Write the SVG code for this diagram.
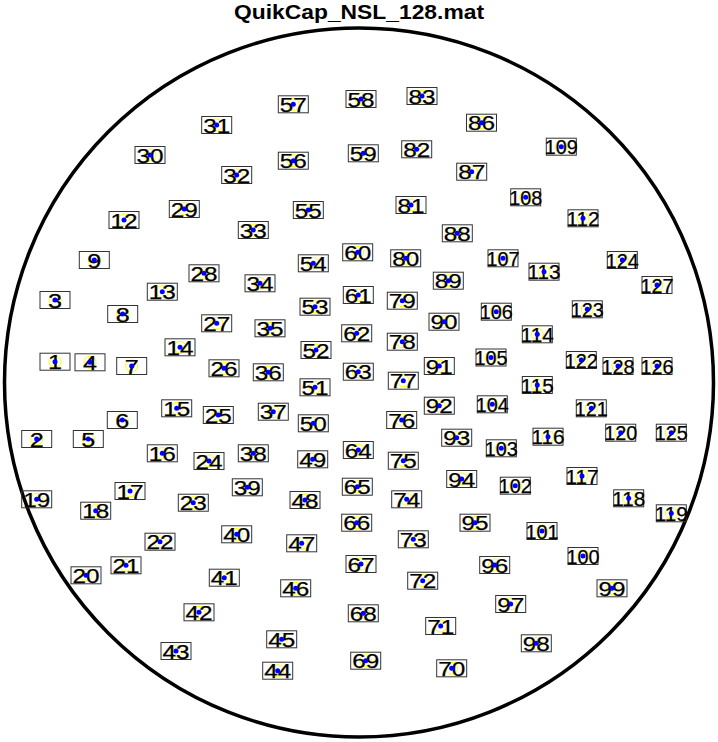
<svg xmlns="http://www.w3.org/2000/svg" xmlns:xlink="http://www.w3.org/1999/xlink" width="718" height="742" viewBox="0 0 718 742">
<style>
.head{fill:none;stroke:#000;stroke-width:3.5}
.title{font-family:"Liberation Sans",Arial,Helvetica,sans-serif;font-weight:bold;font-size:20px;text-anchor:middle;fill:#000}
.box{fill:none;stroke:#333;stroke-width:1}
.ring{fill:none;stroke:#ff0;stroke-width:1}
.dot{fill:#00f}
.t{font-family:"Liberation Sans",Arial,Helvetica,sans-serif;font-size:20px;text-anchor:middle;fill:#000;stroke:#000;stroke-width:0.25}
</style>
<defs>
<g id="m"><circle r="6" class="ring"/><rect x="-15" y="-8.5" width="30" height="17" class="box"/></g>
<circle id="d" r="2.5" class="dot"/>
</defs>
<rect width="718" height="742" fill="#fff"/>
<text class="title" x="359" y="19" textLength="250" lengthAdjust="spacingAndGlyphs">QuikCap_NSL_128.mat</text>
<circle class="head" cx="359" cy="382.5" r="354.5"/>
<g id="connectors"/>
<g id="nodes">
<g id="n1" transform="translate(55,361.7)"><use href="#m"/><text class="t" y="7.5" textLength="14" lengthAdjust="spacingAndGlyphs">1</text><use href="#d"/></g>
<g id="n2" transform="translate(36.7,439)"><use href="#m"/><text class="t" y="7.5" textLength="14" lengthAdjust="spacingAndGlyphs">2</text><use href="#d"/></g>
<g id="n3" transform="translate(55,300)"><use href="#m"/><text class="t" y="7.5" textLength="14" lengthAdjust="spacingAndGlyphs">3</text><use href="#d"/></g>
<g id="n4" transform="translate(90,362.3)"><use href="#m"/><text class="t" y="7.5" textLength="14" lengthAdjust="spacingAndGlyphs">4</text><use href="#d"/></g>
<g id="n5" transform="translate(88.3,439)"><use href="#m"/><text class="t" y="7.5" textLength="14" lengthAdjust="spacingAndGlyphs">5</text><use href="#d"/></g>
<g id="n6" transform="translate(122.3,420)"><use href="#m"/><text class="t" y="7.5" textLength="14" lengthAdjust="spacingAndGlyphs">6</text><use href="#d"/></g>
<g id="n7" transform="translate(131.7,366)"><use href="#m"/><text class="t" y="7.5" textLength="14" lengthAdjust="spacingAndGlyphs">7</text><use href="#d"/></g>
<g id="n8" transform="translate(122.7,314)"><use href="#m"/><text class="t" y="7.5" textLength="14" lengthAdjust="spacingAndGlyphs">8</text><use href="#d"/></g>
<g id="n9" transform="translate(94.3,260)"><use href="#m"/><text class="t" y="7.5" textLength="14" lengthAdjust="spacingAndGlyphs">9</text><use href="#d"/></g>
<g id="n12" transform="translate(124,220)"><use href="#m"/><text class="t" y="7.5" textLength="27" lengthAdjust="spacingAndGlyphs">12</text><use href="#d"/></g>
<g id="n13" transform="translate(162.3,291.7)"><use href="#m"/><text class="t" y="7.5" textLength="27" lengthAdjust="spacingAndGlyphs">13</text><use href="#d"/></g>
<g id="n14" transform="translate(180,347.3)"><use href="#m"/><text class="t" y="7.5" textLength="27" lengthAdjust="spacingAndGlyphs">14</text><use href="#d"/></g>
<g id="n15" transform="translate(176.7,408.3)"><use href="#m"/><text class="t" y="7.5" textLength="27" lengthAdjust="spacingAndGlyphs">15</text><use href="#d"/></g>
<g id="n16" transform="translate(162.3,453.3)"><use href="#m"/><text class="t" y="7.5" textLength="27" lengthAdjust="spacingAndGlyphs">16</text><use href="#d"/></g>
<g id="n17" transform="translate(130,491)"><use href="#m"/><text class="t" y="7.5" textLength="27" lengthAdjust="spacingAndGlyphs">17</text><use href="#d"/></g>
<g id="n18" transform="translate(95.7,510.7)"><use href="#m"/><text class="t" y="7.5" textLength="27" lengthAdjust="spacingAndGlyphs">18</text><use href="#d"/></g>
<g id="n19" transform="translate(36.7,499.3)"><use href="#m"/><text class="t" y="7.5" textLength="27" lengthAdjust="spacingAndGlyphs">19</text><use href="#d"/></g>
<g id="n20" transform="translate(86,575.3)"><use href="#m"/><text class="t" y="7.5" textLength="27" lengthAdjust="spacingAndGlyphs">20</text><use href="#d"/></g>
<g id="n21" transform="translate(126,565.3)"><use href="#m"/><text class="t" y="7.5" textLength="27" lengthAdjust="spacingAndGlyphs">21</text><use href="#d"/></g>
<g id="n22" transform="translate(160,541.7)"><use href="#m"/><text class="t" y="7.5" textLength="27" lengthAdjust="spacingAndGlyphs">22</text><use href="#d"/></g>
<g id="n23" transform="translate(193.3,502.7)"><use href="#m"/><text class="t" y="7.5" textLength="27" lengthAdjust="spacingAndGlyphs">23</text><use href="#d"/></g>
<g id="n24" transform="translate(209,461)"><use href="#m"/><text class="t" y="7.5" textLength="27" lengthAdjust="spacingAndGlyphs">24</text><use href="#d"/></g>
<g id="n25" transform="translate(218.3,415)"><use href="#m"/><text class="t" y="7.5" textLength="27" lengthAdjust="spacingAndGlyphs">25</text><use href="#d"/></g>
<g id="n26" transform="translate(224,368.3)"><use href="#m"/><text class="t" y="7.5" textLength="27" lengthAdjust="spacingAndGlyphs">26</text><use href="#d"/></g>
<g id="n27" transform="translate(216.7,323.3)"><use href="#m"/><text class="t" y="7.5" textLength="27" lengthAdjust="spacingAndGlyphs">27</text><use href="#d"/></g>
<g id="n28" transform="translate(204,273.3)"><use href="#m"/><text class="t" y="7.5" textLength="27" lengthAdjust="spacingAndGlyphs">28</text><use href="#d"/></g>
<g id="n29" transform="translate(184.3,209)"><use href="#m"/><text class="t" y="7.5" textLength="27" lengthAdjust="spacingAndGlyphs">29</text><use href="#d"/></g>
<g id="n30" transform="translate(150,155)"><use href="#m"/><text class="t" y="7.5" textLength="27" lengthAdjust="spacingAndGlyphs">30</text><use href="#d"/></g>
<g id="n31" transform="translate(216.7,125)"><use href="#m"/><text class="t" y="7.5" textLength="27" lengthAdjust="spacingAndGlyphs">31</text><use href="#d"/></g>
<g id="n32" transform="translate(236.7,175)"><use href="#m"/><text class="t" y="7.5" textLength="27" lengthAdjust="spacingAndGlyphs">32</text><use href="#d"/></g>
<g id="n33" transform="translate(253.3,230)"><use href="#m"/><text class="t" y="7.5" textLength="27" lengthAdjust="spacingAndGlyphs">33</text><use href="#d"/></g>
<g id="n34" transform="translate(260,283.3)"><use href="#m"/><text class="t" y="7.5" textLength="27" lengthAdjust="spacingAndGlyphs">34</text><use href="#d"/></g>
<g id="n35" transform="translate(270,328.3)"><use href="#m"/><text class="t" y="7.5" textLength="27" lengthAdjust="spacingAndGlyphs">35</text><use href="#d"/></g>
<g id="n36" transform="translate(268.3,372.3)"><use href="#m"/><text class="t" y="7.5" textLength="27" lengthAdjust="spacingAndGlyphs">36</text><use href="#d"/></g>
<g id="n37" transform="translate(273.3,411.7)"><use href="#m"/><text class="t" y="7.5" textLength="27" lengthAdjust="spacingAndGlyphs">37</text><use href="#d"/></g>
<g id="n38" transform="translate(253.3,453.3)"><use href="#m"/><text class="t" y="7.5" textLength="27" lengthAdjust="spacingAndGlyphs">38</text><use href="#d"/></g>
<g id="n39" transform="translate(247.3,487.3)"><use href="#m"/><text class="t" y="7.5" textLength="27" lengthAdjust="spacingAndGlyphs">39</text><use href="#d"/></g>
<g id="n40" transform="translate(236.7,534.3)"><use href="#m"/><text class="t" y="7.5" textLength="27" lengthAdjust="spacingAndGlyphs">40</text><use href="#d"/></g>
<g id="n41" transform="translate(224.3,577.7)"><use href="#m"/><text class="t" y="7.5" textLength="27" lengthAdjust="spacingAndGlyphs">41</text><use href="#d"/></g>
<g id="n42" transform="translate(199,612.3)"><use href="#m"/><text class="t" y="7.5" textLength="27" lengthAdjust="spacingAndGlyphs">42</text><use href="#d"/></g>
<g id="n43" transform="translate(176,651)"><use href="#m"/><text class="t" y="7.5" textLength="27" lengthAdjust="spacingAndGlyphs">43</text><use href="#d"/></g>
<g id="n44" transform="translate(277.7,670.7)"><use href="#m"/><text class="t" y="7.5" textLength="27" lengthAdjust="spacingAndGlyphs">44</text><use href="#d"/></g>
<g id="n45" transform="translate(281.7,639.3)"><use href="#m"/><text class="t" y="7.5" textLength="27" lengthAdjust="spacingAndGlyphs">45</text><use href="#d"/></g>
<g id="n46" transform="translate(295.7,588.3)"><use href="#m"/><text class="t" y="7.5" textLength="27" lengthAdjust="spacingAndGlyphs">46</text><use href="#d"/></g>
<g id="n47" transform="translate(301.7,543.3)"><use href="#m"/><text class="t" y="7.5" textLength="27" lengthAdjust="spacingAndGlyphs">47</text><use href="#d"/></g>
<g id="n48" transform="translate(305,500)"><use href="#m"/><text class="t" y="7.5" textLength="27" lengthAdjust="spacingAndGlyphs">48</text><use href="#d"/></g>
<g id="n49" transform="translate(312.7,459.3)"><use href="#m"/><text class="t" y="7.5" textLength="27" lengthAdjust="spacingAndGlyphs">49</text><use href="#d"/></g>
<g id="n50" transform="translate(313.3,423.3)"><use href="#m"/><text class="t" y="7.5" textLength="27" lengthAdjust="spacingAndGlyphs">50</text><use href="#d"/></g>
<g id="n51" transform="translate(315,387.3)"><use href="#m"/><text class="t" y="7.5" textLength="27" lengthAdjust="spacingAndGlyphs">51</text><use href="#d"/></g>
<g id="n52" transform="translate(316,350)"><use href="#m"/><text class="t" y="7.5" textLength="27" lengthAdjust="spacingAndGlyphs">52</text><use href="#d"/></g>
<g id="n53" transform="translate(315,306.7)"><use href="#m"/><text class="t" y="7.5" textLength="27" lengthAdjust="spacingAndGlyphs">53</text><use href="#d"/></g>
<g id="n54" transform="translate(313.3,263.3)"><use href="#m"/><text class="t" y="7.5" textLength="27" lengthAdjust="spacingAndGlyphs">54</text><use href="#d"/></g>
<g id="n55" transform="translate(308.3,210)"><use href="#m"/><text class="t" y="7.5" textLength="27" lengthAdjust="spacingAndGlyphs">55</text><use href="#d"/></g>
<g id="n56" transform="translate(293.3,160.7)"><use href="#m"/><text class="t" y="7.5" textLength="27" lengthAdjust="spacingAndGlyphs">56</text><use href="#d"/></g>
<g id="n57" transform="translate(293.3,104.3)"><use href="#m"/><text class="t" y="7.5" textLength="27" lengthAdjust="spacingAndGlyphs">57</text><use href="#d"/></g>
<g id="n58" transform="translate(361,99)"><use href="#m"/><text class="t" y="7.5" textLength="27" lengthAdjust="spacingAndGlyphs">58</text><use href="#d"/></g>
<g id="n59" transform="translate(363.3,153.3)"><use href="#m"/><text class="t" y="7.5" textLength="27" lengthAdjust="spacingAndGlyphs">59</text><use href="#d"/></g>
<g id="n60" transform="translate(357.7,252.3)"><use href="#m"/><text class="t" y="7.5" textLength="27" lengthAdjust="spacingAndGlyphs">60</text><use href="#d"/></g>
<g id="n61" transform="translate(358.3,295)"><use href="#m"/><text class="t" y="7.5" textLength="27" lengthAdjust="spacingAndGlyphs">61</text><use href="#d"/></g>
<g id="n62" transform="translate(356.7,333.3)"><use href="#m"/><text class="t" y="7.5" textLength="27" lengthAdjust="spacingAndGlyphs">62</text><use href="#d"/></g>
<g id="n63" transform="translate(358.3,371.7)"><use href="#m"/><text class="t" y="7.5" textLength="27" lengthAdjust="spacingAndGlyphs">63</text><use href="#d"/></g>
<g id="n64" transform="translate(358.3,450)"><use href="#m"/><text class="t" y="7.5" textLength="27" lengthAdjust="spacingAndGlyphs">64</text><use href="#d"/></g>
<g id="n65" transform="translate(357.3,486.7)"><use href="#m"/><text class="t" y="7.5" textLength="27" lengthAdjust="spacingAndGlyphs">65</text><use href="#d"/></g>
<g id="n66" transform="translate(356.7,522.7)"><use href="#m"/><text class="t" y="7.5" textLength="27" lengthAdjust="spacingAndGlyphs">66</text><use href="#d"/></g>
<g id="n67" transform="translate(361,564)"><use href="#m"/><text class="t" y="7.5" textLength="27" lengthAdjust="spacingAndGlyphs">67</text><use href="#d"/></g>
<g id="n68" transform="translate(363.3,613.3)"><use href="#m"/><text class="t" y="7.5" textLength="27" lengthAdjust="spacingAndGlyphs">68</text><use href="#d"/></g>
<g id="n69" transform="translate(365.7,660.7)"><use href="#m"/><text class="t" y="7.5" textLength="27" lengthAdjust="spacingAndGlyphs">69</text><use href="#d"/></g>
<g id="n70" transform="translate(451.7,668.3)"><use href="#m"/><text class="t" y="7.5" textLength="27" lengthAdjust="spacingAndGlyphs">70</text><use href="#d"/></g>
<g id="n71" transform="translate(440.7,626)"><use href="#m"/><text class="t" y="7.5" textLength="27" lengthAdjust="spacingAndGlyphs">71</text><use href="#d"/></g>
<g id="n72" transform="translate(422.7,580.7)"><use href="#m"/><text class="t" y="7.5" textLength="27" lengthAdjust="spacingAndGlyphs">72</text><use href="#d"/></g>
<g id="n73" transform="translate(413.3,539.3)"><use href="#m"/><text class="t" y="7.5" textLength="27" lengthAdjust="spacingAndGlyphs">73</text><use href="#d"/></g>
<g id="n74" transform="translate(406.7,499.3)"><use href="#m"/><text class="t" y="7.5" textLength="27" lengthAdjust="spacingAndGlyphs">74</text><use href="#d"/></g>
<g id="n75" transform="translate(403.3,460.7)"><use href="#m"/><text class="t" y="7.5" textLength="27" lengthAdjust="spacingAndGlyphs">75</text><use href="#d"/></g>
<g id="n76" transform="translate(401.7,420)"><use href="#m"/><text class="t" y="7.5" textLength="27" lengthAdjust="spacingAndGlyphs">76</text><use href="#d"/></g>
<g id="n77" transform="translate(403.3,380.7)"><use href="#m"/><text class="t" y="7.5" textLength="27" lengthAdjust="spacingAndGlyphs">77</text><use href="#d"/></g>
<g id="n78" transform="translate(402.3,341.7)"><use href="#m"/><text class="t" y="7.5" textLength="27" lengthAdjust="spacingAndGlyphs">78</text><use href="#d"/></g>
<g id="n79" transform="translate(402.3,300.7)"><use href="#m"/><text class="t" y="7.5" textLength="27" lengthAdjust="spacingAndGlyphs">79</text><use href="#d"/></g>
<g id="n80" transform="translate(405.7,258.3)"><use href="#m"/><text class="t" y="7.5" textLength="27" lengthAdjust="spacingAndGlyphs">80</text><use href="#d"/></g>
<g id="n81" transform="translate(411,205)"><use href="#m"/><text class="t" y="7.5" textLength="27" lengthAdjust="spacingAndGlyphs">81</text><use href="#d"/></g>
<g id="n82" transform="translate(416.7,149.3)"><use href="#m"/><text class="t" y="7.5" textLength="27" lengthAdjust="spacingAndGlyphs">82</text><use href="#d"/></g>
<g id="n83" transform="translate(422,96)"><use href="#m"/><text class="t" y="7.5" textLength="27" lengthAdjust="spacingAndGlyphs">83</text><use href="#d"/></g>
<g id="n86" transform="translate(481.5,122.7)"><use href="#m"/><text class="t" y="7.5" textLength="27" lengthAdjust="spacingAndGlyphs">86</text><use href="#d"/></g>
<g id="n87" transform="translate(471.7,171.7)"><use href="#m"/><text class="t" y="7.5" textLength="27" lengthAdjust="spacingAndGlyphs">87</text><use href="#d"/></g>
<g id="n88" transform="translate(457.3,233.3)"><use href="#m"/><text class="t" y="7.5" textLength="27" lengthAdjust="spacingAndGlyphs">88</text><use href="#d"/></g>
<g id="n89" transform="translate(448.3,280.7)"><use href="#m"/><text class="t" y="7.5" textLength="27" lengthAdjust="spacingAndGlyphs">89</text><use href="#d"/></g>
<g id="n90" transform="translate(444,321.7)"><use href="#m"/><text class="t" y="7.5" textLength="27" lengthAdjust="spacingAndGlyphs">90</text><use href="#d"/></g>
<g id="n91" transform="translate(439.3,366)"><use href="#m"/><text class="t" y="7.5" textLength="27" lengthAdjust="spacingAndGlyphs">91</text><use href="#d"/></g>
<g id="n92" transform="translate(439.3,405.7)"><use href="#m"/><text class="t" y="7.5" textLength="27" lengthAdjust="spacingAndGlyphs">92</text><use href="#d"/></g>
<g id="n93" transform="translate(456.7,437.7)"><use href="#m"/><text class="t" y="7.5" textLength="27" lengthAdjust="spacingAndGlyphs">93</text><use href="#d"/></g>
<g id="n94" transform="translate(461.7,479)"><use href="#m"/><text class="t" y="7.5" textLength="27" lengthAdjust="spacingAndGlyphs">94</text><use href="#d"/></g>
<g id="n95" transform="translate(475,522.7)"><use href="#m"/><text class="t" y="7.5" textLength="27" lengthAdjust="spacingAndGlyphs">95</text><use href="#d"/></g>
<g id="n96" transform="translate(494.7,565)"><use href="#m"/><text class="t" y="7.5" textLength="27" lengthAdjust="spacingAndGlyphs">96</text><use href="#d"/></g>
<g id="n97" transform="translate(510.7,604)"><use href="#m"/><text class="t" y="7.5" textLength="27" lengthAdjust="spacingAndGlyphs">97</text><use href="#d"/></g>
<g id="n98" transform="translate(536.3,643.3)"><use href="#m"/><text class="t" y="7.5" textLength="27" lengthAdjust="spacingAndGlyphs">98</text><use href="#d"/></g>
<g id="n99" transform="translate(612,588.3)"><use href="#m"/><text class="t" y="7.5" textLength="27" lengthAdjust="spacingAndGlyphs">99</text><use href="#d"/></g>
<g id="n100" transform="translate(583,556)"><use href="#m"/><text class="t" y="7.5" textLength="33" lengthAdjust="spacingAndGlyphs">100</text><use href="#d"/></g>
<g id="n101" transform="translate(542,531)"><use href="#m"/><text class="t" y="7.5" textLength="33" lengthAdjust="spacingAndGlyphs">101</text><use href="#d"/></g>
<g id="n102" transform="translate(515.3,485.7)"><use href="#m"/><text class="t" y="7.5" textLength="33" lengthAdjust="spacingAndGlyphs">102</text><use href="#d"/></g>
<g id="n103" transform="translate(501.3,448.3)"><use href="#m"/><text class="t" y="7.5" textLength="33" lengthAdjust="spacingAndGlyphs">103</text><use href="#d"/></g>
<g id="n104" transform="translate(492.3,404.3)"><use href="#m"/><text class="t" y="7.5" textLength="33" lengthAdjust="spacingAndGlyphs">104</text><use href="#d"/></g>
<g id="n105" transform="translate(491,357.5)"><use href="#m"/><text class="t" y="7.5" textLength="33" lengthAdjust="spacingAndGlyphs">105</text><use href="#d"/></g>
<g id="n106" transform="translate(496.3,311.7)"><use href="#m"/><text class="t" y="7.5" textLength="33" lengthAdjust="spacingAndGlyphs">106</text><use href="#d"/></g>
<g id="n107" transform="translate(503,258.3)"><use href="#m"/><text class="t" y="7.5" textLength="33" lengthAdjust="spacingAndGlyphs">107</text><use href="#d"/></g>
<g id="n108" transform="translate(525.7,197.3)"><use href="#m"/><text class="t" y="7.5" textLength="33" lengthAdjust="spacingAndGlyphs">108</text><use href="#d"/></g>
<g id="n109" transform="translate(561.3,146.7)"><use href="#m"/><text class="t" y="7.5" textLength="33" lengthAdjust="spacingAndGlyphs">109</text><use href="#d"/></g>
<g id="n112" transform="translate(583,218.3)"><use href="#m"/><text class="t" y="7.5" textLength="33" lengthAdjust="spacingAndGlyphs">112</text><use href="#d"/></g>
<g id="n113" transform="translate(544,271.7)"><use href="#m"/><text class="t" y="7.5" textLength="33" lengthAdjust="spacingAndGlyphs">113</text><use href="#d"/></g>
<g id="n114" transform="translate(537.3,334.3)"><use href="#m"/><text class="t" y="7.5" textLength="33" lengthAdjust="spacingAndGlyphs">114</text><use href="#d"/></g>
<g id="n115" transform="translate(537.3,385)"><use href="#m"/><text class="t" y="7.5" textLength="33" lengthAdjust="spacingAndGlyphs">115</text><use href="#d"/></g>
<g id="n116" transform="translate(548,436.7)"><use href="#m"/><text class="t" y="7.5" textLength="33" lengthAdjust="spacingAndGlyphs">116</text><use href="#d"/></g>
<g id="n117" transform="translate(582,476)"><use href="#m"/><text class="t" y="7.5" textLength="33" lengthAdjust="spacingAndGlyphs">117</text><use href="#d"/></g>
<g id="n118" transform="translate(628.7,498.3)"><use href="#m"/><text class="t" y="7.5" textLength="33" lengthAdjust="spacingAndGlyphs">118</text><use href="#d"/></g>
<g id="n119" transform="translate(671.3,513.3)"><use href="#m"/><text class="t" y="7.5" textLength="33" lengthAdjust="spacingAndGlyphs">119</text><use href="#d"/></g>
<g id="n120" transform="translate(620.7,432.7)"><use href="#m"/><text class="t" y="7.5" textLength="33" lengthAdjust="spacingAndGlyphs">120</text><use href="#d"/></g>
<g id="n121" transform="translate(591.3,408.3)"><use href="#m"/><text class="t" y="7.5" textLength="33" lengthAdjust="spacingAndGlyphs">121</text><use href="#d"/></g>
<g id="n122" transform="translate(581.3,360)"><use href="#m"/><text class="t" y="7.5" textLength="33" lengthAdjust="spacingAndGlyphs">122</text><use href="#d"/></g>
<g id="n123" transform="translate(587.3,309.3)"><use href="#m"/><text class="t" y="7.5" textLength="33" lengthAdjust="spacingAndGlyphs">123</text><use href="#d"/></g>
<g id="n124" transform="translate(622.3,260)"><use href="#m"/><text class="t" y="7.5" textLength="33" lengthAdjust="spacingAndGlyphs">124</text><use href="#d"/></g>
<g id="n125" transform="translate(671.3,432.7)"><use href="#m"/><text class="t" y="7.5" textLength="33" lengthAdjust="spacingAndGlyphs">125</text><use href="#d"/></g>
<g id="n126" transform="translate(657,366)"><use href="#m"/><text class="t" y="7.5" textLength="33" lengthAdjust="spacingAndGlyphs">126</text><use href="#d"/></g>
<g id="n127" transform="translate(657,285)"><use href="#m"/><text class="t" y="7.5" textLength="33" lengthAdjust="spacingAndGlyphs">127</text><use href="#d"/></g>
<g id="n128" transform="translate(618,366)"><use href="#m"/><text class="t" y="7.5" textLength="33" lengthAdjust="spacingAndGlyphs">128</text><use href="#d"/></g>
</g>
</svg>
